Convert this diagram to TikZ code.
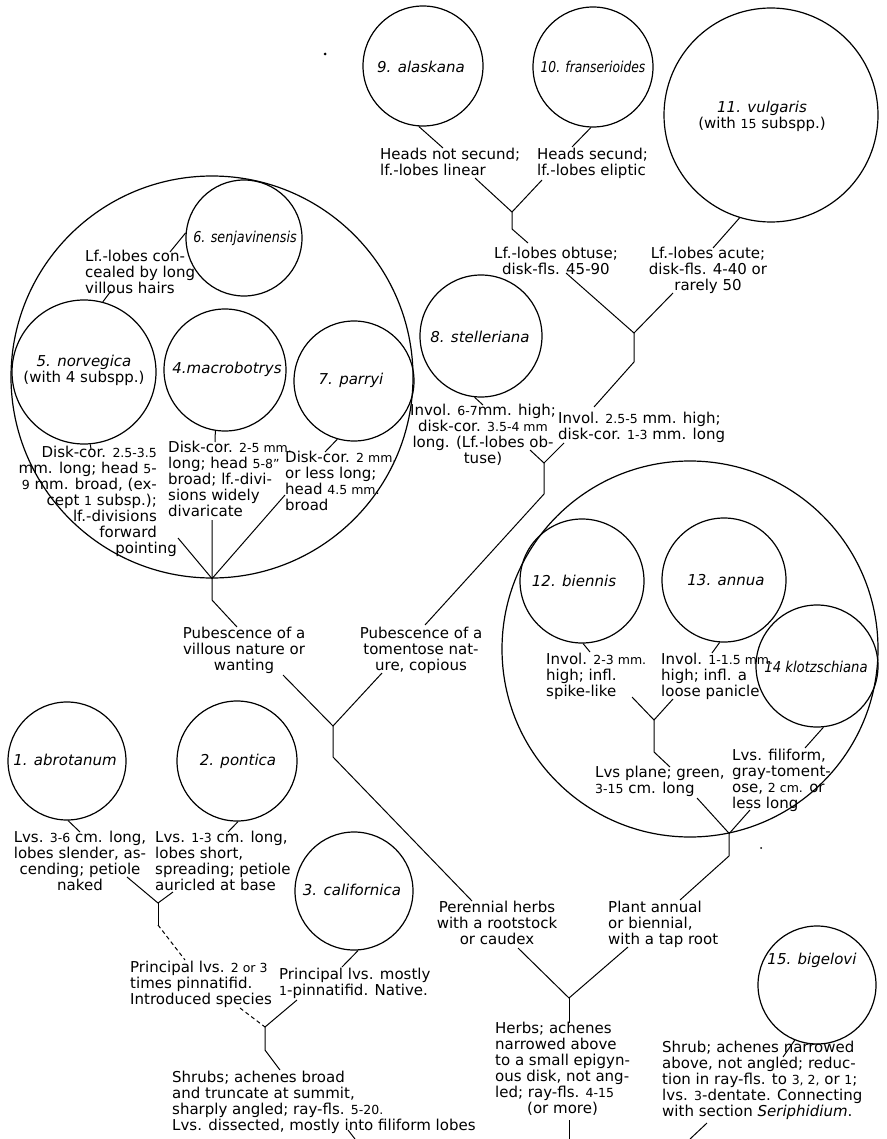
\documentclass[tikz,border=0pt]{standalone}
\usepackage{fontspec}
\setmainfont{DejaVu Sans}
\usepackage{graphicx}
\newcommand\sm[1]{{\fontsize{12.5}{16}\selectfont #1}}
\tikzset{
 txt/.style={inner sep=0pt, font=\fontsize{15}{16}\selectfont},
 lab/.style={inner sep=0pt, font=\fontsize{15}{16}\selectfont\itshape},
 sp/.style={draw, circle, line width=1.2pt, inner sep=0pt},
 ln/.style={line width=1pt},
 dsh/.style={line width=1pt, dash pattern=on 4pt off 3pt},
}
\begin{document}
\begin{tikzpicture}[x=1pt,y=-1pt]
\fill[white] (0,0) rectangle (886,1139);
\useasboundingbox (0,0) rectangle (886,1139);

% ---------- circles ----------
\node[sp, minimum size=120pt] (alaskana) at (423,66) {};
\node[sp, minimum size=120pt] (franser) at (593,67) {};
\node[sp, minimum size=214pt] (vulgaris) at (771,115) {};
\node[sp, minimum size=402pt] (bigleft) at (212,377) {};
\node[sp, minimum size=116pt] (senj) at (244,238) {};
\node[sp, minimum size=144pt] (norv) at (84,372) {};
\node[sp, minimum size=122pt] (macro) at (225,370) {};
\node[sp, minimum size=120pt] (parry) at (354,381) {};
\node[sp, minimum size=122pt] (stel) at (481,336) {};
\node[sp, minimum size=376pt] (bigright) at (690,649) {};
\node[sp, minimum size=124pt] (bienn) at (582,581) {};
\node[sp, minimum size=124pt] (annua) at (724,580) {};
\node[sp, minimum size=122pt] (klotz) at (817,666) {};
\node[sp, minimum size=118pt] (abrot) at (67,761) {};
\node[sp, minimum size=120pt] (pont) at (237,761) {};
\node[sp, minimum size=118pt] (calif) at (354,891) {};
\node[sp, minimum size=118pt] (bigel) at (817,985) {};

% ---------- circle labels ----------
\node[lab] (alaskanaL) at (421,67) {9. alaskana};
\node[lab] (franserL) at (593,67) {\scalebox{0.82}[1]{10. franserioides}};
\node[lab, align=center] (vulgarisL) at (762,116) {11. vulgaris\\\upshape(with \sm{15} subspp.)};
\node[lab] (senjL) at (245,238) {\scalebox{0.85}[1]{6. senjavinensis}};
\node[lab, align=center] (norvL) at (84,370) {5. norvegica\\\upshape(with 4 subspp.)};
\node[lab] (macroL) at (227,369) {4.macrobotrys};
\node[lab] (parryL) at (351,380) {7. parryi};
\node[lab] (stelL) at (480,337) {8. stelleriana};
\node[lab] (biennL) at (574,581) {12. biennis};
\node[lab] (annuaL) at (726,580) {13. annua};
\node[lab] (klotzL) at (816,667) {\scalebox{0.88}[1]{14 klotzschiana}};
\node[lab] (abrotL) at (65,760) {1. abrotanum};
\node[lab] (pontL) at (238,761) {2. pontica};
\node[lab] (califL) at (352,890) {3. californica};
\node[lab] (bigelL) at (812,960) {15. bigelovi};

% ---------- text nodes ----------
\node[txt, align=left, anchor=north west] (headsnot) at (380,148) {Heads not secund;\\lf.-lobes linear};
\node[txt, align=left, anchor=north west] (headssec) at (537,148) {Heads secund;\\lf.-lobes eliptic};
\node[txt, align=center, anchor=north] (obtuse) at (556,247) {Lf.-lobes obtuse;\\disk-fls. 45-90};
\node[txt, align=center, anchor=north] (acute) at (708,247) {Lf.-lobes acute;\\disk-fls. 4-40 or\\rarely 50};
\node[txt, align=left, anchor=north west] (conceal) at (85,250) {Lf.-lobes con-\\cealed by long\\villous hairs};
\node[txt, align=right, anchor=north east] (norvT) at (157,446) {Disk-cor. \sm{2.5-3.5}\\mm. long; head \sm{5}-\\\sm{9} mm. broad, (ex-\\cept \sm{1} subsp.);\\lf.-divisions\\forward\\pointing\hspace*{-20pt}};
\node[txt, align=left, anchor=north west] (macroT) at (168,441) {Disk-cor. \sm{2-5 mm.}\\long; head \sm{5-8"}\\broad; lf.-divi-\\sions widely\\divaricate};
\node[txt, align=left, anchor=north west] (parryT) at (285,451) {Disk-cor. \sm{2 mm.}\\or less long;\\head \sm{4.5 mm.}\\broad};
\node[txt, align=center, anchor=north] (stelT) at (483,404) {Invol. \sm{6-7}mm. high;\\disk-cor. \sm{3.5-4 mm}\\long. (Lf.-lobes ob-\\tuse)};
\node[txt, align=left, anchor=north west] (involT) at (558,412) {Invol. \sm{2.5-5} mm. high;\\disk-cor. \sm{1-3} mm. long};
\node[txt, align=center, anchor=north] (villous) at (244,627) {Pubescence of a\\villous nature or\\wanting};
\node[txt, align=center, anchor=north] (toment) at (421,627) {Pubescence of a\\tomentose nat-\\ure, copious};
\node[txt, align=left, anchor=north west] (biennT) at (546,653) {Invol. \sm{2-3 mm.}\\high; infl.\\spike-like};
\node[txt, align=left, anchor=north west] (annuaT) at (661,653) {Invol. \sm{1-1.5 mm.}\\high; infl. a\\loose panicle};
\node[txt, align=left, anchor=north west] (plane) at (595,766) {Lvs plane; green,\\\sm{3-15} cm. long};
\node[txt, align=left, anchor=north west] (filif) at (732,749) {Lvs. filiform,\\gray-toment-\\ose, \sm{2 cm.} or\\less long};
\node[txt, align=center, anchor=north] (abrotT) at (80,831) {Lvs. \sm{3-6} cm. long,\\lobes slender, as-\\cending; petiole\\naked};
\node[txt, align=left, anchor=north west] (pontT) at (155,831) {Lvs. \sm{1-3} cm. long,\\lobes short,\\spreading; petiole\\auricled at base};
\node[txt, align=left, anchor=north west] (introd) at (130,961) {Principal lvs. \sm{2 or 3}\\times pinnatifid.\\Introduced species};
\node[txt, align=left, anchor=north west] (native) at (279,968) {Principal lvs. mostly\\\sm{1}-pinnatifid. Native.};
\node[txt, align=left, anchor=north west] (shrubs) at (172,1071) {Shrubs; achenes broad\\and truncate at summit,\\sharply angled; ray-fls. \sm{5-20.}\\Lvs. dissected, mostly into filiform lobes};
\node[txt, align=center, anchor=north] (perenn) at (497,901) {Perennial herbs\\with a rootstock\\or caudex};
\node[txt, align=left, anchor=north west] (annual) at (608,901) {Plant annual\\or biennial,\\with a tap root};
\node[txt, align=left, anchor=north west] (herbs) at (495,1022) {Herbs; achenes\\narrowed above\\to a small epigyn-\\ous disk, not ang-\\led; ray-fls. \sm{4-15}\\\hspace*{32pt}(or more)};
\node[txt, align=left, anchor=north west] (shrub) at (662,1041) {Shrub; achenes narrowed\\above, not angled; reduc-\\tion in ray-fls. to \sm{3, 2,} or \sm{1};\\lvs. \sm{3}-dentate. Connecting\\with section \textit{Seriphidium}.};

% ---------- connector coordinates ----------
\coordinate (a1) at (443,148);
\coordinate (f1) at (572,147);
\coordinate (t1e) at (475,178);
\coordinate (t2e) at (542,180);
\coordinate (j1) at (512,212);
\coordinate (j1s) at (512,229);
\coordinate (t3t) at (528,243);
\coordinate (v1) at (713,248);
\coordinate (t3e) at (566,273);
\coordinate (t4e) at (673,293);
\coordinate (j2) at (634,333);
\coordinate (j2s) at (634,362);
\coordinate (t10t) at (594,407);
\coordinate (s1) at (483,405);
\coordinate (t9e) at (530,450);
\coordinate (t10e) at (564,443);
\coordinate (j3) at (544,463);
\coordinate (j3s) at (544,494);
\coordinate (t12t) at (425,625);
\coordinate (sj1) at (170,252);
\coordinate (n1) at (111,291);
\coordinate (n2) at (91,449);
\coordinate (m1) at (215,442);
\coordinate (p1) at (325,452);
\coordinate (t6e) at (178,538);
\coordinate (t7e) at (212,520);
\coordinate (t8e) at (285,495);
\coordinate (j4s) at (212,600);
\coordinate (t11t) at (237,627);
\coordinate (t11e) at (283,675);
\coordinate (t12e) at (382,673);
\coordinate (j5) at (333,726);
\coordinate (j5s) at (333,757);
\coordinate (t22t) at (472,901);
\coordinate (b1) at (590,652);
\coordinate (an1) at (712,653);
\coordinate (t13e) at (632,697);
\coordinate (t14e) at (673,699);
\coordinate (j6) at (654,720);
\coordinate (j6s) at (654,752);
\coordinate (t15t) at (670,767);
\coordinate (k1) at (805,748);
\coordinate (t15e) at (697,798);
\coordinate (t16e) at (750,810);
\coordinate (j7s) at (729,856);
\coordinate (t23t) at (680,900);
\coordinate (t22e) at (518,948);
\coordinate (t23e) at (628,947);
\coordinate (j8) at (569,998);
\coordinate (t24t) at (569,1023);
\coordinate (t24e) at (569,1120);
\coordinate (t24x) at (569,1139);
\coordinate (bg1) at (783,1057);
\coordinate (t25e) at (707,1123);
\coordinate (t25x) at (690,1139);
\coordinate (ab1) at (80,832);
\coordinate (po1) at (228,832);
\coordinate (t17e) at (127,877);
\coordinate (t18e) at (173,892);
\coordinate (j9) at (158,903);
\coordinate (j9s) at (158,925);
\coordinate (t19t) at (185,960);
\coordinate (c1) at (342,967);
\coordinate (t19e) at (240,1008);
\coordinate (t20e) at (297,1000);
\coordinate (j10) at (265,1027);
\coordinate (j10s) at (265,1050);
\coordinate (t21t) at (280,1070);
\coordinate (t21e) at (348,1130);
\coordinate (t21x) at (355,1139);

% ---------- connectors ----------
\draw[ln] (alaskana.-94) -- (a1);
\draw[ln] (franser.-92) -- (f1);
\draw[ln] (t1e) -- (j1) -- (t2e);
\draw[ln] (j1) -- (j1s) -- (t3t);
\draw[ln] (vulgaris.-107) -- (v1);
\draw[ln] (t3e) -- (j2) -- (t4e);
\draw[ln] (j2) -- (j2s) -- (t10t);
\draw[ln] (stel.-96) -- (s1);
\draw[ln] (t9e) -- (j3) -- (t10e);
\draw[ln] (j3) -- (j3s) -- (t12t);
\draw[ln] (senj.175) -- (sj1);
\draw[ln] (norv.75) -- (n1);
\draw[ln] (norv.-85) -- (n2);
\draw[ln] (macro.-99) -- (m1);
\draw[ln] (parry.-106) -- (p1);
\draw[ln] (t6e) -- (bigleft.south) -- (t8e);
\draw[ln] (t7e) -- (bigleft.south) -- (j4s) -- (t11t);
\draw[ln] (t11e) -- (j5) -- (t12e);
\draw[ln] (j5) -- (j5s) -- (t22t);
\draw[ln] (bienn.-89) -- (b1);
\draw[ln] (annua.-94) -- (an1);
\draw[ln] (t13e) -- (j6) -- (t14e);
\draw[ln] (j6) -- (j6s) -- (t15t);
\draw[ln] (klotz.-84) -- (k1);
\draw[ln] (t15e) -- (bigright.-78) -- (t16e);
\draw[ln] (bigright.-78) -- (j7s) -- (t23t);
\draw[ln] (t22e) -- (j8) -- (t23e);
\draw[ln] (j8) -- (t24t);
\draw[ln] (t24e) -- (t24x);
\draw[ln] (bigel.-112) -- (bg1);
\draw[ln] (t25e) -- (t25x);
\draw[ln] (abrot.-89) -- (ab1);
\draw[ln] (pont.-89) -- (po1);
\draw[ln] (t17e) -- (j9) -- (t18e);
\draw[ln] (j9) -- (j9s);
\draw[dsh] (j9s) -- (t19t);
\draw[ln] (calif.-86) -- (c1);
\draw[dsh] (t19e) -- (j10);
\draw[ln] (j10) -- (t20e);
\draw[ln] (j10) -- (j10s) -- (t21t);
\draw[ln] (t21e) -- (t21x);

% specks
\fill (325,54) circle (1.5pt);
\fill (761,848) circle (1pt);
\end{tikzpicture}
\end{document}
